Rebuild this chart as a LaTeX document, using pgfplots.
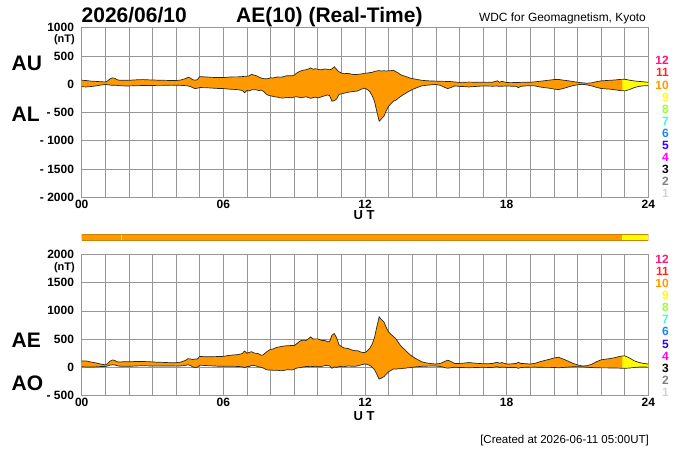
\documentclass[border=0pt]{standalone}
\usepackage{pgfplots}
\usepackage{pgfplotstable}
\pgfplotsset{compat=1.18}
\usepgfplotslibrary{fillbetween}
\usepackage{fontspec}
\setmainfont{Liberation Sans}

\definecolor{aeorange}{RGB}{255,153,0}
\definecolor{aeyellow}{RGB}{255,255,0}
\definecolor{barborder}{RGB}{200,130,0}
\definecolor{gridgray}{RGB}{150,150,150}
\definecolor{c12}{RGB}{255,20,130}
\definecolor{c11}{RGB}{255,40,40}
\definecolor{c10}{RGB}{255,153,0}
\definecolor{c9}{RGB}{255,255,0}
\definecolor{c8}{RGB}{153,255,51}
\definecolor{c7}{RGB}{51,255,210}
\definecolor{c6}{RGB}{30,130,255}
\definecolor{c5}{RGB}{51,0,255}
\definecolor{c4}{RGB}{255,0,255}
\definecolor{c3}{RGB}{0,0,0}
\definecolor{c2}{RGB}{128,128,128}
\definecolor{c1}{RGB}{210,210,210}

\pgfplotstableread{
t AU AL AE AO
0.0 70 -45 115 12
0.2 65 -48 113 8
0.4 55 -40 95 7
0.6 50 -30 80 10
0.8 45 -15 60 15
1.0 40 -5 45 17
1.1 60 -8 68 26
1.2 95 -15 110 40
1.3 112 -20 132 46
1.4 105 -18 123 43
1.5 80 -20 100 30
1.6 70 -25 95 22
1.8 72 -30 102 21
2.0 70 -30 100 20
2.2 75 -28 103 23
2.4 80 -25 105 27
2.6 82 -22 104 30
2.8 78 -24 102 27
3.0 75 -22 97 26
3.2 72 -20 92 26
3.4 70 -20 90 25
3.6 68 -18 86 25
3.8 66 -16 82 25
4.0 65 -18 83 23
4.2 75 -20 95 27
4.4 100 -25 125 37
4.5 124 -30 154 47
4.6 110 -40 150 35
4.7 80 -60 140 10
4.8 72 -77 149 -2
4.9 80 -70 150 5
5.0 135 -59 194 38
5.2 130 -60 190 35
5.4 125 -65 190 30
5.6 120 -70 190 25
5.8 118 -75 193 21
6.0 118 -77 195 20
6.2 125 -85 210 20
6.4 130 -90 220 20
6.6 130 -95 225 17
6.8 135 -110 245 12
6.9 140 -150 290 -5
7.0 140 -110 250 15
7.1 150 -118 268 16
7.2 177 -100 277 38
7.3 160 -95 255 33
7.4 150 -100 250 25
7.5 128 -112 240 8
7.6 110 -105 215 2
7.7 100 -125 225 -12
7.8 95 -170 265 -37
7.9 100 -195 295 -47
8.0 115 -205 320 -45
8.1 110 -215 325 -52
8.2 120 -225 345 -52
8.3 130 -228 358 -49
8.4 125 -240 365 -57
8.5 128 -245 373 -58
8.6 140 -240 380 -50
8.7 152 -232 384 -40
8.8 150 -235 385 -42
8.9 148 -240 388 -46
9.0 160 -225 385 -32
9.1 195 -222 417 -13
9.2 220 -230 450 -5
9.3 238 -238 476 0
9.4 250 -230 480 10
9.5 255 -222 477 16
9.6 270 -235 505 17
9.7 289 -250 539 19
9.8 265 -235 500 15
9.9 275 -230 505 22
10.0 265 -240 505 12
10.1 255 -232 487 11
10.2 260 -215 475 22
10.3 270 -205 475 32
10.4 265 -190 455 37
10.5 255 -200 455 27
10.6 270 -300 570 -15
10.7 310 -290 600 10
10.8 260 -260 520 0
10.9 220 -180 400 20
11.0 200 -170 370 15
11.1 185 -160 345 12
11.2 190 -150 340 20
11.3 192 -140 332 26
11.4 180 -135 315 22
11.5 172 -128 300 22
11.6 170 -125 295 22
11.7 176 -118 294 29
11.8 180 -95 275 42
11.9 185 -80 265 52
12.0 195 -70 265 62
12.1 198 -95 293 51
12.2 205 -130 335 37
12.3 210 -200 410 5
12.4 225 -300 525 -37
12.5 236 -480 716 -122
12.6 240 -654 894 -207
12.7 235 -610 845 -187
12.8 238 -568 806 -165
12.9 235 -470 705 -117
13.0 238 -390 628 -76
13.1 240 -345 585 -52
13.2 247 -300 547 -26
13.3 225 -285 510 -30
13.4 200 -250 450 -25
13.5 170 -220 390 -25
13.6 155 -190 345 -17
13.7 140 -168 308 -14
13.8 125 -140 265 -7
13.9 110 -118 228 -4
14.0 100 -95 195 2
14.2 85 -60 145 12
14.4 70 -30 100 20
14.6 62 -18 80 22
14.8 58 -10 68 24
15.0 55 -5 60 25
15.2 52 -20 72 16
15.4 50 -60 110 -5
15.5 50 -77 127 -13
15.6 48 -65 113 -8
15.8 40 -30 70 5
16.0 32 -38 70 -3
16.2 35 -42 77 -3
16.4 38 -48 86 -5
16.6 36 -42 78 -3
16.8 35 -36 71 0
17.0 35 -30 65 2
17.2 33 -32 65 0
17.4 36 -35 71 0
17.6 60 -32 92 14
17.7 36 -38 74 -1
17.8 50 -36 86 7
18.0 30 -30 60 0
18.2 28 -35 63 -3
18.4 32 -38 70 -3
18.5 30 -60 90 -15
18.6 33 -38 71 -2
18.8 36 -30 66 3
19.0 35 -25 60 5
19.2 42 -30 72 6
19.4 52 -48 100 2
19.6 62 -60 122 1
19.8 72 -70 142 1
20.0 82 -85 167 -1
20.2 85 -95 180 -5
20.4 72 -75 147 -1
20.6 62 -50 112 6
20.8 48 -25 73 11
21.0 35 -10 45 12
21.2 25 0 25 12
21.4 18 -12 30 3
21.6 25 -30 55 -2
21.8 45 -55 100 -5
22.0 59 -75 134 -8
22.2 65 -82 147 -8
22.4 70 -88 158 -9
22.6 76 -98 174 -11
22.8 85 -112 197 -13
23.0 88 -118 206 -15
23.2 72 -95 167 -11
23.4 58 -60 118 -1
23.6 50 -38 88 6
23.8 42 -28 70 7
24.0 35 -25 60 5
}\aedata

\pgfplotsset{
  kyoto/.style={
    scale only axis, width=566.6pt,
    anchor=south west,
    xmin=0, xmax=24,
    xtick={0,6,12,18,24}, xticklabels={00,06,12,18,24},
    minor xtick={1,2,3,4,5,7,8,9,10,11,13,14,15,16,17,19,20,21,22,23},
    grid=both,
    major grid style={draw=gridgray, line width=0.6pt},
    minor grid style={draw=gridgray, line width=0.6pt},
    axis line style={draw=gridgray, line width=0.6pt},
    major tick length=0pt, minor tick length=0pt,
    tick label style={font=\fontsize{12}{12}\selectfont\bfseries},
    xticklabel style={inner sep=0pt, yshift=-2.5pt},
    yticklabel style={inner sep=0pt, xshift=-7.5pt},
  },
  ln/.style={draw=black!85, line width=0.7pt},
}
\tikzset{lg/.style={anchor=base east, inner sep=0pt, font=\fontsize{12}{12}\selectfont\bfseries}}

\begin{document}
\begin{tikzpicture}[x=1pt,y=1pt]

% ---------- top panel: AU / AL ----------
\begin{axis}[kyoto, height=169.6pt, at={(81.7pt,252.7pt)},
  ymin=-2000, ymax=1000, ytick={-2000,-1500,-1000,-500,0,500,1000},
  yticklabels={{- 2000},{- 1500},{- 1000},{- 500},0,500,1000}]
\addplot[draw=none, name path=au] table[x=t,y=AU]{\aedata};
\addplot[draw=none, name path=al] table[x=t,y=AL]{\aedata};
\addplot[fill=aeorange, draw=none] fill between[of=au and al];
\addplot[fill=aeyellow, draw=none] fill between[of=au and al, soft clip={domain=22.9:24}];
\addplot[ln] table[x=t,y=AU]{\aedata};
\addplot[ln] table[x=t,y=AL]{\aedata};
\end{axis}

% ---------- colour bar ----------
\begin{axis}[scale only axis, width=566.6pt, height=6pt, at={(81.7pt,210pt)},
  anchor=south west, xmin=0, xmax=24, ymin=0, ymax=1, hide axis]
\addplot[fill=aeorange, draw=none] coordinates {(0,1) (22.9,1)} \closedcycle;
\addplot[fill=aeyellow, draw=none] coordinates {(22.9,1) (24,1)} \closedcycle;
\addplot[fill=aeyellow, draw=none] coordinates {(1.66,1) (1.72,1)} \closedcycle;
\addplot[draw=barborder, line width=0.6pt] coordinates {(0,0) (24,0) (24,1) (0,1) (0,0)};
\end{axis}

% ---------- bottom panel: AE / AO ----------
\begin{axis}[kyoto, height=141.4pt, at={(81.7pt,54.3pt)},
  ymin=-500, ymax=2000, ytick={-500,0,500,1000,1500,2000},
  yticklabels={{- 500},0,500,1000,1500,2000}]
\addplot[draw=none, name path=ae] table[x=t,y=AE]{\aedata};
\addplot[draw=none, name path=ao] table[x=t,y=AO]{\aedata};
\addplot[fill=aeorange, draw=none] fill between[of=ae and ao];
\addplot[fill=aeyellow, draw=none] fill between[of=ae and ao, soft clip={domain=22.9:24}];
\addplot[ln] table[x=t,y=AE]{\aedata};
\addplot[ln] table[x=t,y=AO]{\aedata};
\end{axis}

% ---------- texts ----------
\node[anchor=base west, inner sep=0pt, font=\fontsize{21}{21}\selectfont\bfseries] at (81.5,427) {2026/06/10};
\node[anchor=base west, inner sep=0pt, font=\fontsize{21}{21}\selectfont\bfseries] at (236,427) {AE(10) (Real-Time)};
\node[anchor=base east, inner sep=0pt, font=\fontsize{11.9}{12}\selectfont] at (646,428.3) {WDC for Geomagnetism, Kyoto};

\node[anchor=base west, inner sep=0pt, font=\fontsize{21}{21}\selectfont\bfseries] at (11.5,379.3) {AU};
\node[anchor=base west, inner sep=0pt, font=\fontsize{21}{21}\selectfont\bfseries] at (11.5,328) {AL};
\node[anchor=base west, inner sep=0pt, font=\fontsize{21}{21}\selectfont\bfseries] at (11.5,103) {AE};
\node[anchor=base west, inner sep=0pt, font=\fontsize{21}{21}\selectfont\bfseries] at (11.5,60) {AO};

\node[anchor=base east, inner sep=0pt, font=\fontsize{11}{12}\selectfont\bfseries] at (75,407.5) {(nT)};
\node[anchor=base east, inner sep=0pt, font=\fontsize{11}{12}\selectfont\bfseries] at (75,179.5) {(nT)};

\node[anchor=base, inner sep=0pt, font=\fontsize{13}{13}\selectfont\bfseries] at (364,230.3) {U T};
\node[anchor=base, inner sep=0pt, font=\fontsize{13}{13}\selectfont\bfseries] at (364,29.3) {U T};

\node[anchor=base east, inner sep=0pt, font=\fontsize{11.5}{12}\selectfont] at (649,7) {[Created at 2026-06-11 05:00UT]};

% right-hand colour key, top panel
\node[lg, text=c12] at (669,385.0) {12};
\node[lg, text=c11] at (669,373.0) {11};
\node[lg, text=c10] at (669,360.9) {10};
\node[lg, text=c9]  at (669,348.9) {9};
\node[lg, text=c8]  at (669,336.8) {8};
\node[lg, text=c7]  at (669,324.8) {7};
\node[lg, text=c6]  at (669,312.7) {6};
\node[lg, text=c5]  at (669,300.7) {5};
\node[lg, text=c4]  at (669,288.6) {4};
\node[lg, text=c3]  at (669,276.6) {3};
\node[lg, text=c2]  at (669,264.5) {2};
\node[lg, text=c1]  at (669,252.5) {1};
% right-hand colour key, bottom panel
\node[lg, text=c12] at (669,186.7) {12};
\node[lg, text=c11] at (669,174.6) {11};
\node[lg, text=c10] at (669,162.5) {10};
\node[lg, text=c9]  at (669,150.4) {9};
\node[lg, text=c8]  at (669,138.3) {8};
\node[lg, text=c7]  at (669,126.2) {7};
\node[lg, text=c6]  at (669,114.1) {6};
\node[lg, text=c5]  at (669,102.0) {5};
\node[lg, text=c4]  at (669,89.9) {4};
\node[lg, text=c3]  at (669,77.8) {3};
\node[lg, text=c2]  at (669,65.7) {2};
\node[lg, text=c1]  at (669,53.6) {1};

\pgfresetboundingbox
\path[use as bounding box] (0,0) rectangle (700,450);
\end{tikzpicture}
\end{document}
